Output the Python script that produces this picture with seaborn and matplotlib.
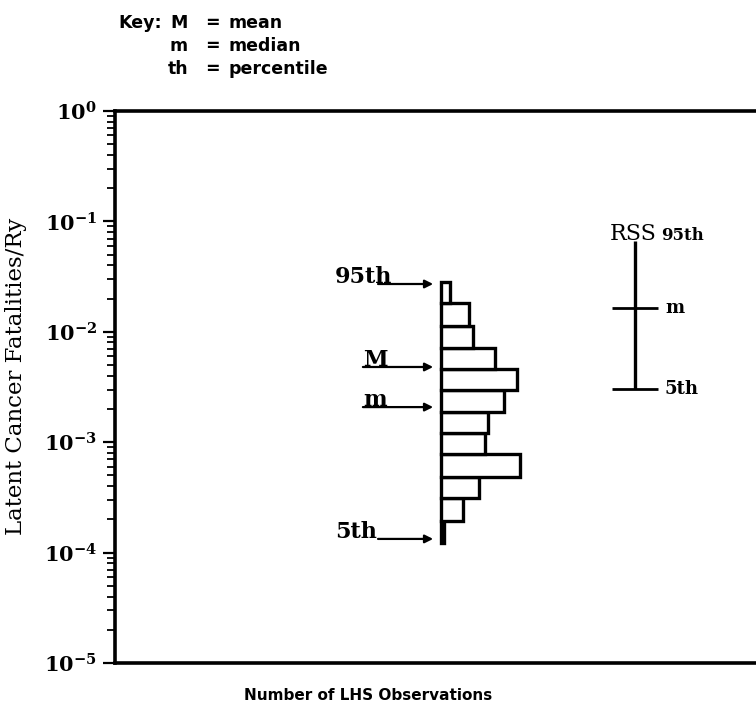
import numpy as np
import pandas as pd
import matplotlib
matplotlib.use("Agg")
import matplotlib.pyplot as plt
import seaborn as sns

# ---- data ----
# histogram bin edges (latent cancer fatalities / Ry), top to bottom
bin_edges = [2.81e-2, 1.81e-2, 1.14e-2, 7.2e-3, 4.56e-3, 2.94e-3, 1.86e-3,
             1.2e-3, 7.9e-4, 4.8e-4, 3.1e-4, 1.95e-4, 1.23e-4]
# number of LHS observations in each bin (same order)
bin_counts = [3, 9, 10, 17, 24, 20, 15, 14, 25, 12, 7, 1]

# marked statistics of the LHS sample
stat_labels = ["95th", "M", "m", "5th"]
stat_values = [2.71e-2, 4.8e-3, 2.08e-3, 1.33e-4]

# RSS estimate: 95th, median, 5th
rss_values = [6.64e-2, 1.64e-2, 3.03e-3]

key_symbols = ["M", "m", "th"]
key_words = ["mean", "median", "percentile"]

W, H = 756, 713
sns.set_style("ticks", {"axes.edgecolor": "black", "text.color": "black",
                        "axes.labelcolor": "black", "xtick.color": "black",
                        "ytick.color": "black"})
plt.rcParams["font.family"] = ["DejaVu Serif"]
plt.rcParams["mathtext.fontset"] = "dejavuserif"

fig = plt.figure(figsize=(W / 100, H / 100), dpi=100)
ax_l, ax_r, ax_t, ax_b = 115, 756, 111, 663
ax = fig.add_axes([ax_l / W, 1 - ax_b / H, (ax_r - ax_l) / W, (ax_b - ax_t) / H])

# horizontal histogram, one weighted observation per bin centre
edges_log = np.log10(bin_edges[::-1])
df = pd.DataFrame({
    "value": 10 ** ((edges_log[:-1] + edges_log[1:]) / 2),
    "count": bin_counts[::-1],
})
sns.histplot(data=df, y="value", weights="count", bins=list(edges_log),
             log_scale=(False, True), color="white", edgecolor="black",
             linewidth=2.4, alpha=1, ax=ax)

ax.set_ylim(1e-5, 1)
ax.set_xlim(-103.5, 100)

# arrows pointing at the histogram
tails = {"95th": -20, "M": -24.8, "m": -24.8, "5th": -20}
lefts = {"95th": -33.7, "M": -24.8, "m": -24.8, "5th": -33.7}
for lab, val in zip(stat_labels, stat_values):
    ax.annotate("", xy=(-2.5, val), xytext=(tails[lab], val),
                arrowprops=dict(arrowstyle="-|>", lw=1.6, color="black",
                                mutation_scale=12, shrinkA=0, shrinkB=0))
    ax.text(lefts[lab], val * 1.02, lab, ha="left", va="baseline",
            fontsize=16, fontweight="bold")

# RSS range bar
rx = 61.6
ax.vlines(rx, rss_values[2], rss_values[0], color="black", lw=2.4)
ax.hlines(rss_values[1:], rx - 7.3, rx + 7.3, color="black", lw=2.0)
ax.text(53.7, rss_values[0] * 1.02, "RSS", ha="left", va="baseline",
        fontsize=16)
ax.text(70.0, rss_values[0] * 1.02, "95th", ha="left", va="baseline",
        fontsize=12, fontweight="bold")
for lab, val in zip(["m", "5th"], rss_values[1:]):
    ax.text(71.1, val, lab, ha="left", va="center", fontsize=13,
            fontweight="bold")

# axes styling
for s in ["top", "left", "bottom"]:
    ax.spines[s].set_linewidth(2.6)
ax.spines["right"].set_visible(False)
ax.set_xticks([])
ax.tick_params(axis="y", which="major", length=9, width=1.6, labelsize=15,
               pad=4)
ax.tick_params(axis="y", which="minor", length=6, width=1.3)
ax.yaxis.set_major_locator(matplotlib.ticker.LogLocator(base=10, numticks=10))
ax.yaxis.set_minor_locator(matplotlib.ticker.LogLocator(base=10, subs=np.arange(2, 10), numticks=20))
ax.yaxis.set_major_formatter(matplotlib.ticker.FuncFormatter(
    lambda v, p: r"$\mathbf{10^{%d}}$" % round(np.log10(v))))
ax.set_ylabel("Latent Cancer Fatalities/Ry", fontsize=16.5, labelpad=8)
ax.yaxis.set_label_coords(-(115 - 27) / (ax_r - ax_l), 0.52)
ax.set_xlabel("")
fig.text(368 / W, 1 - 695 / H, "Number of LHS Observations", ha="center",
         va="center", fontsize=11, fontweight="bold", family="DejaVu Sans")

# key
rows_y = [23, 46, 69]
kw = dict(va="center", fontsize=12.5, fontweight="bold", family="DejaVu Sans")
fig.text(118 / W, 1 - rows_y[0] / H, "Key:", ha="left", **kw)
for yy, sym, word in zip(rows_y, key_symbols, key_words):
    fig.text(188 / W, 1 - yy / H, sym, ha="right", **kw)
    fig.text(212 / W, 1 - yy / H, "=", ha="center", **kw)
    fig.text(228 / W, 1 - yy / H, word, ha="left", **kw)

fig.savefig("out.png", dpi=100)
